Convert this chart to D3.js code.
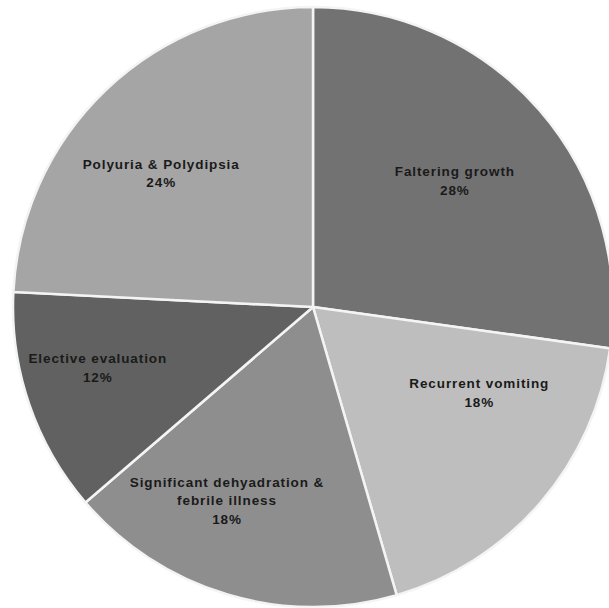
<!DOCTYPE html>
<html>
<head>
<meta charset="utf-8">
<script src="https://cdn.jsdelivr.net/npm/d3@7"></script>
<style>
  body { margin: 0; background: #fff; }
  text { font-family: "Liberation Sans", Arial, sans-serif; font-weight: bold; fill: #1a1a1a; }
</style>
</head>
<body>
<div id="chart"></div>
<script>
let width = 609,
    height = 608;

// slices, clockwise from 12 o'clock
const categories = ["Faltering growth", "Recurrent vomiting", "Significant dehyadration & febrile illness", "Elective evaluation", "Polyuria & Polydipsia"];
const shares = [27.2, 18.3, 18.2, 12.1, 24.2];   // slice sizes
const pctLabels = ["28%", "18%", "18%", "12%", "24%"];
const greys = ["#727272", "#bebebe", "#8e8e8e", "#616161", "#a5a5a5"];

// label lines (long name is wrapped like the original)
const labelLines = [
  ["Faltering growth"],
  ["Recurrent vomiting"],
  ["Significant dehyadration &", "febrile illness"],
  ["Elective evaluation"],
  ["Polyuria & Polydipsia"]
];

const cx = 313, cy = 307, radius = 300;

const svg = d3.select("#chart")
  .append("svg")
  .attr("width", width)
  .attr("height", height)
  .attr("viewBox", [0, 0, width, height]);

const data = categories.map((c, i) => ({ name: c, value: shares[i], pct: pctLabels[i], lines: labelLines[i] }));

const pie = d3.pie().sort(null).value(d => d.value);
const arc = d3.arc().innerRadius(0).outerRadius(radius);
const labelArc = d3.arc().innerRadius(200).outerRadius(200);

const color = d3.scaleOrdinal().domain(categories).range(greys);

const g = svg.append("g").attr("transform", `translate(${cx},${cy})`);

g.selectAll("path")
  .data(pie(data))
  .join("path")
  .attr("d", arc)
  .attr("fill", d => color(d.data.name))
  .attr("stroke", "#f4f4f4")
  .attr("stroke-width", 2.5);

// small nudges so labels sit where the original put them
const nudge = [[-9, 6], [15, -44], [-29, 3], [-26, -3], [-14, 12]];

const labels = g.selectAll("text.lbl")
  .data(pie(data))
  .join("text")
  .attr("class", "lbl")
  .attr("text-anchor", "middle")
  .attr("font-size", 13.5)
  .attr("transform", (d, i) => {
    const [x, y] = labelArc.centroid(d);
    const n = d.data.lines.length + 1;
    return `translate(${x + nudge[i][0]},${y + nudge[i][1] - (n - 1) * 9.5 + 4})`;
  });

labels.each(function(d) {
  const t = d3.select(this);
  d.data.lines.concat([d.data.pct]).forEach((line, k) => {
    t.append("tspan")
      .attr("x", 0)
      .attr("dy", k === 0 ? 0 : 18.5)
      .attr("letter-spacing", 0.9)
      .text(line);
  });
});
</script>
</body>
</html>
